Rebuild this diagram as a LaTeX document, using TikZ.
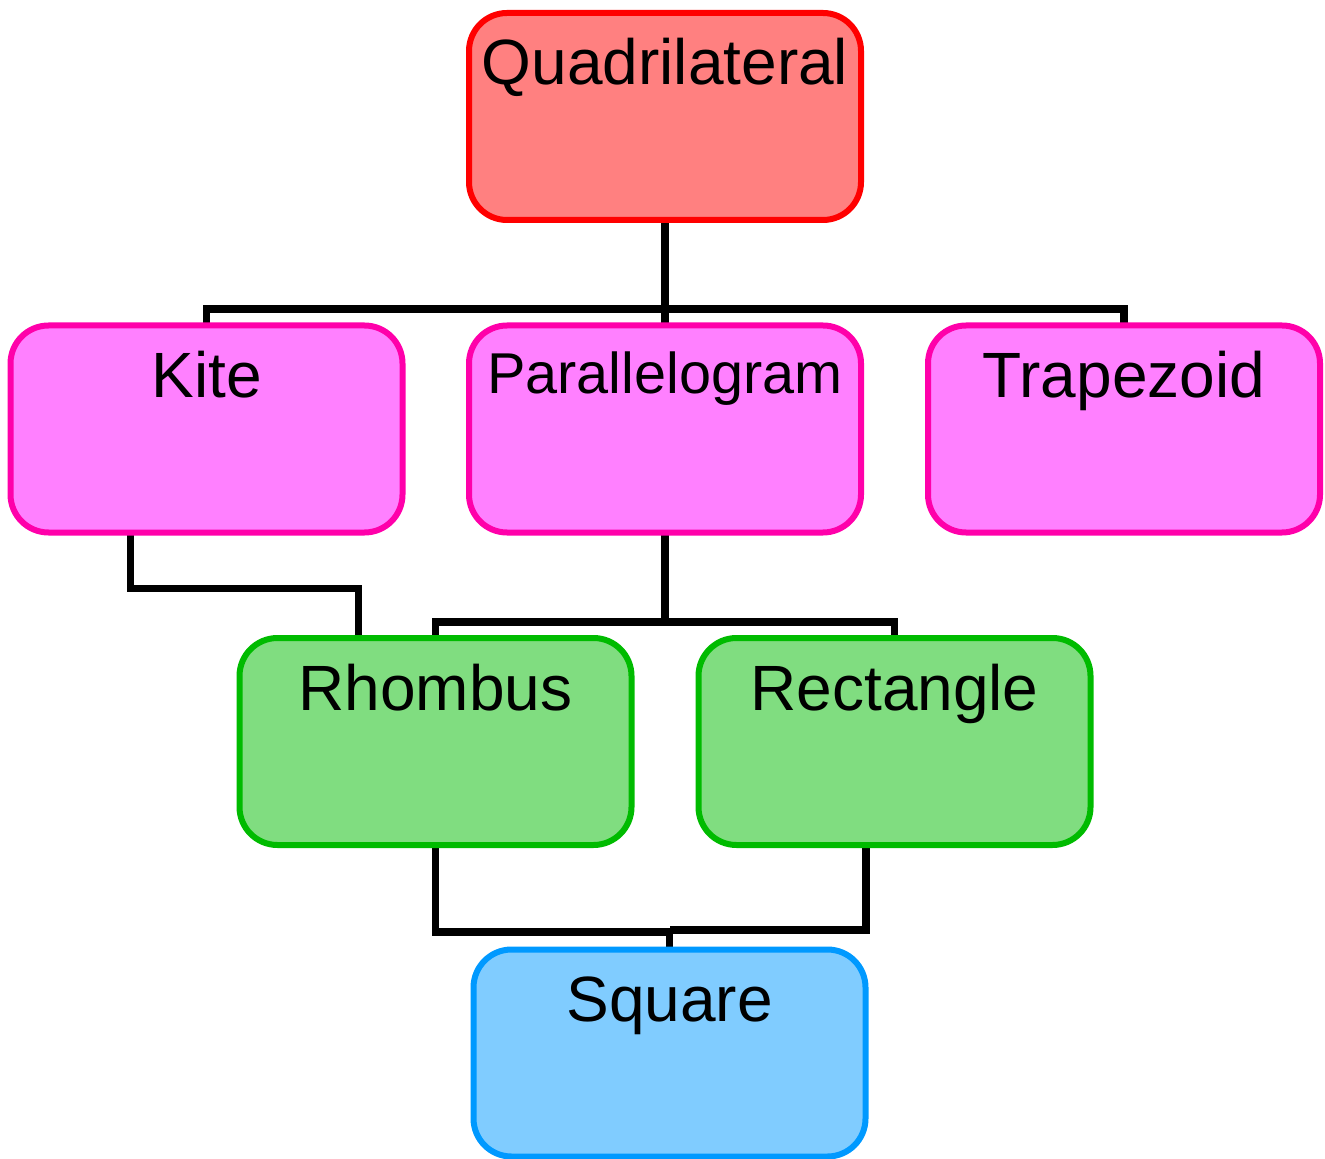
\documentclass[tikz,border=0pt]{standalone}
\usepackage{fontspec}
\setmainfont{Liberation Sans}
\usetikzlibrary{calc,backgrounds}
\definecolor{redS}{HTML}{FF0000}
\definecolor{redF}{HTML}{FF8080}
\definecolor{pinkS}{HTML}{FF00AA}
\definecolor{pinkF}{HTML}{FF80FF}
\definecolor{greenS}{HTML}{00BB00}
\definecolor{greenF}{HTML}{80DD80}
\definecolor{blueS}{HTML}{0099FF}
\definecolor{blueF}{HTML}{80CCFF}
\begin{document}
\begin{tikzpicture}[x=0.5pt,y=-0.5pt,
  box/.style={draw, line width=3pt, rounded corners=19pt, minimum width=196pt,
              minimum height=103.5pt, inner sep=0pt, outer sep=0pt},
  redbox/.style={box, draw=redS, fill=redF},
  pinkbox/.style={box, draw=pinkS, fill=pinkF},
  greenbox/.style={box, draw=greenS, fill=greenF},
  bluebox/.style={box, draw=blueS, fill=blueF},
  lbl/.style={anchor=base, font=\fontsize{32}{38}\selectfont, inner sep=0pt},
  smalllbl/.style={lbl, font=\fontsize{28.8}{34}\selectfont},
  conn/.style={draw=black, line width=3.6pt, line join=miter, line cap=butt}]
\useasboundingbox (0,0) rectangle (1325,1159);

\node[redbox]   (quad) at (665,116.5) {};
\node[pinkbox]  (kite) at (206.5,429) {};
\node[pinkbox]  (para) at (665,429) {};
\node[pinkbox]  (trap) at (1124,429) {};
\node[greenbox] (rhom) at (435.5,741.5) {};
\node[greenbox] (rect) at (894.5,741.5) {};
\node[bluebox]  (sq)   at (669.5,1053) {};

\node[lbl] (quadT) at ($(quad.north)+(0,72)$) {Quadrilateral};
\node[lbl] (kiteT) at ($(kite.north)+(0,72)$) {Kite};
\node[smalllbl] (paraT) at ($(para.north)+(0,68)$) {Parallelogram};
\node[lbl] (trapT) at ($(trap.north)+(0,72)$) {Trapezoid};
\node[lbl] (rhomT) at ($(rhom.north)+(0,72)$) {Rhombus};
\node[lbl] (rectT) at ($(rect.north)+(0,72)$) {Rectangle};
\node[lbl] (sqT)   at ($(sq.north)+(0,72)$)   {Square};

\begin{pgfonlayer}{background}
  \coordinate (b1) at (665,309);
  \draw[conn] (quad.south) -- (b1) -| (kite.north);
  \draw[conn] (b1) -| (trap.north);
  \draw[conn] (b1) -- (para.north);

  \coordinate (k1) at ($(kite.south west)+(120,0)$);
  \coordinate (k2) at ($(rhom.north west)+(119,0)$);
  \draw[conn] (k1) -- ++(0,56) -| (k2);

  \coordinate (b2) at (665,622);
  \draw[conn] (para.south) -- (b2);
  \draw[conn] (rhom.north) |- (b2) -| (rect.north);

  \coordinate (b3) at (669.5,932);
  \coordinate (b4) at (669.5,930);
  \coordinate (r1) at ($(rect.south)+(-28.5,0)$);
  \draw[conn] (rhom.south) |- (b3) -- (sq.north);
  \draw[conn] (r1) |- (b4);
\end{pgfonlayer}
\end{tikzpicture}
\end{document}
